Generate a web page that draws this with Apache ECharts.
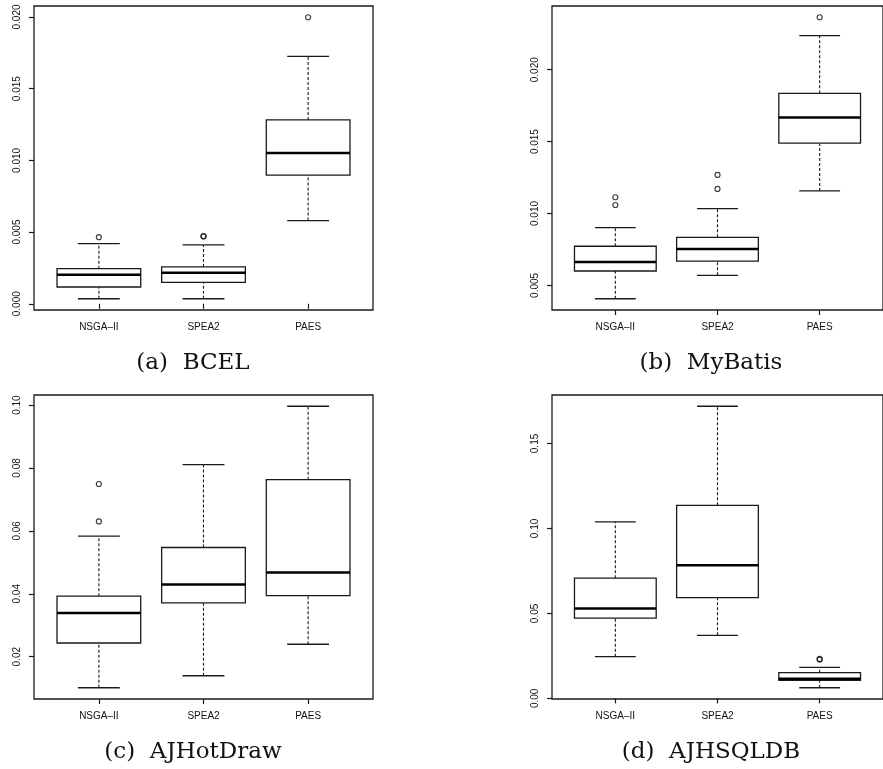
<!DOCTYPE html>
<html>
<head>
<meta charset="utf-8">
<script src="https://cdn.jsdelivr.net/npm/echarts@6/dist/echarts.min.js"></script>
<style>
  html, body { margin: 0; padding: 0; background: #fff; }
  #main { width: 883px; height: 769px; }
</style>
</head>
<body>
<div id="main"></div>
<script>
// algorithms on the x axis
const methods = ['NSGA–II', 'SPEA2', 'PAES'];

// box stats per method: [lower whisker, Q1, median, Q3, upper whisker]
const bcelStats = [
  [0.00035, 0.00117, 0.00203, 0.00245, 0.00420],
  [0.00035, 0.00149, 0.00217, 0.00257, 0.00410],
  [0.00580, 0.00897, 0.01051, 0.01282, 0.01725]
];
const bcelOutliers = [[1, 0.00464], [2, 0.00469], [2, 0.00472], [3, 0.01998]];

const mybatisStats = [
  [0.00407, 0.00600, 0.00662, 0.00772, 0.00902],
  [0.00570, 0.00669, 0.00753, 0.00834, 0.01034],
  [0.01157, 0.01489, 0.01668, 0.01836, 0.02237]
];
const mybatisOutliers = [[1, 0.01059], [1, 0.01113], [2, 0.01171], [2, 0.01268], [3, 0.02365]];

const ajhotdrawStats = [
  [0.01013, 0.02436, 0.03392, 0.03923, 0.05834],
  [0.01395, 0.03710, 0.04293, 0.05471, 0.08105],
  [0.02395, 0.03943, 0.04675, 0.07627, 0.09962]
];
const ajhotdrawOutliers = [[1, 0.0630], [1, 0.0749]];

const ajhsqldbStats = [
  [0.02453, 0.04717, 0.05283, 0.07075, 0.10390],
  [0.03710, 0.05930, 0.07840, 0.11360, 0.17190],
  [0.00625, 0.01060, 0.01156, 0.01510, 0.01828]
];
const ajhsqldbOutliers = [[3, 0.0228], [3, 0.0232]];

// y tick labels
const bcelTicks = [0, 0.005, 0.010, 0.015, 0.020];
const mybatisTicks = [0.005, 0.010, 0.015, 0.020];
const ajhotdrawTicks = [0.02, 0.04, 0.06, 0.08, 0.10];
const ajhsqldbTicks = [0, 0.05, 0.10, 0.15];

const captions = ['(a)  BCEL', '(b)  MyBatis', '(c)  AJHotDraw', '(d)  AJHSQLDB'];

const panels = [
  { stats: bcelStats, out: bcelOutliers, ticks: bcelTicks, dec: 3, left: 34, top: 6 },
  { stats: mybatisStats, out: mybatisOutliers, ticks: mybatisTicks, dec: 3, left: 552, top: 6 },
  { stats: ajhotdrawStats, out: ajhotdrawOutliers, ticks: ajhotdrawTicks, dec: 2, left: 34, top: 395 },
  { stats: ajhsqldbStats, out: ajhsqldbOutliers, ticks: ajhsqldbTicks, dec: 2, left: 552, top: 395 }
];

const LINE = '#1a1a1a';
const sans = '"Liberation Sans", Arial, sans-serif';

// R style range: data extent stretched by 4% each side
function rRange(stats, out) {
  let lo = Infinity, hi = -Infinity;
  stats.forEach(s => { lo = Math.min(lo, s[0]); hi = Math.max(hi, s[4]); });
  out.forEach(o => { lo = Math.min(lo, o[1]); hi = Math.max(hi, o[1]); });
  const pad = (hi - lo) * 0.04;
  return [lo - pad, hi + pad];
}

function renderBox(params, api) {
  const x = api.value(0);
  const lo = api.value(1), q1 = api.value(2), med = api.value(3), q3 = api.value(4), hi = api.value(5);
  const half = api.size([0.4, 0])[0];
  const cap = half / 2;
  const pLo = api.coord([x, lo]), pQ1 = api.coord([x, q1]), pMed = api.coord([x, med]);
  const pQ3 = api.coord([x, q3]), pHi = api.coord([x, hi]);
  const cx = pLo[0];
  const dash = { stroke: LINE, lineWidth: 1.1, lineDash: [3, 2] };
  const solid = { stroke: LINE, lineWidth: 1.3 };
  return {
    type: 'group',
    children: [
      { type: 'line', shape: { x1: cx, y1: pQ3[1], x2: cx, y2: pHi[1] }, style: dash },
      { type: 'line', shape: { x1: cx, y1: pLo[1], x2: cx, y2: pQ1[1] }, style: dash },
      { type: 'line', shape: { x1: cx - cap, y1: pHi[1], x2: cx + cap, y2: pHi[1] }, style: solid },
      { type: 'line', shape: { x1: cx - cap, y1: pLo[1], x2: cx + cap, y2: pLo[1] }, style: solid },
      { type: 'rect', shape: { x: cx - half, y: pQ3[1], width: half * 2, height: pQ1[1] - pQ3[1] },
        style: { fill: '#fff', stroke: LINE, lineWidth: 1.3 } },
      { type: 'line', shape: { x1: cx - half, y1: pMed[1], x2: cx + half, y2: pMed[1] },
        style: { stroke: '#000', lineWidth: 2.5 } }
    ]
  };
}

const option = {
  animation: false,
  backgroundColor: '#fff',
  title: [], grid: [], xAxis: [], yAxis: [], series: []
};

panels.forEach((p, i) => {
  const range = rRange(p.stats, p.out);
  option.grid.push({
    left: p.left, top: p.top, width: 339, height: 304,
    show: true, borderColor: LINE, borderWidth: 1.3, backgroundColor: 'transparent'
  });
  option.xAxis.push({
    type: 'value', gridIndex: i, min: 0.38, max: 3.62,
    axisLine: { show: false },
    splitLine: { show: false },
    axisTick: { show: true, length: 5, lineStyle: { color: LINE, width: 1.2 }, customValues: [1, 2, 3] },
    axisLabel: {
      customValues: [1, 2, 3], margin: 12, color: '#111', fontFamily: sans, fontSize: 10,
      formatter: v => methods[Math.round(v) - 1]
    }
  });
  option.yAxis.push({
    type: 'value', gridIndex: i, min: range[0], max: range[1],
    axisLine: { show: false },
    splitLine: { show: false },
    axisTick: { show: true, length: 5, lineStyle: { color: LINE, width: 1.2 }, customValues: p.ticks },
    axisLabel: {
      customValues: p.ticks, rotate: 90, margin: 12, color: '#111', fontFamily: sans, fontSize: 10,
      formatter: v => v.toFixed(p.dec)
    }
  });
  option.series.push({
    type: 'custom', xAxisIndex: i, yAxisIndex: i,
    renderItem: renderBox,
    data: p.stats.map((s, k) => [k + 1].concat(s)),
    z: 2
  });
  option.series.push({
    type: 'scatter', xAxisIndex: i, yAxisIndex: i,
    symbol: 'circle', symbolSize: 5,
    itemStyle: { color: 'transparent', borderColor: '#111', borderWidth: 1.2 },
    data: p.out,
    z: 3
  });
  option.title.push({
    text: captions[i],
    left: p.left + 159, top: p.top + 346, padding: 0,
    textAlign: 'center',
    textStyle: { fontFamily: '"DejaVu Serif", serif', fontWeight: 'normal', fontSize: 23, color: '#111' }
  });
});

const chart = echarts.init(document.getElementById('main'), null, { renderer: 'canvas' });
chart.setOption(option);
</script>
</body>
</html>
